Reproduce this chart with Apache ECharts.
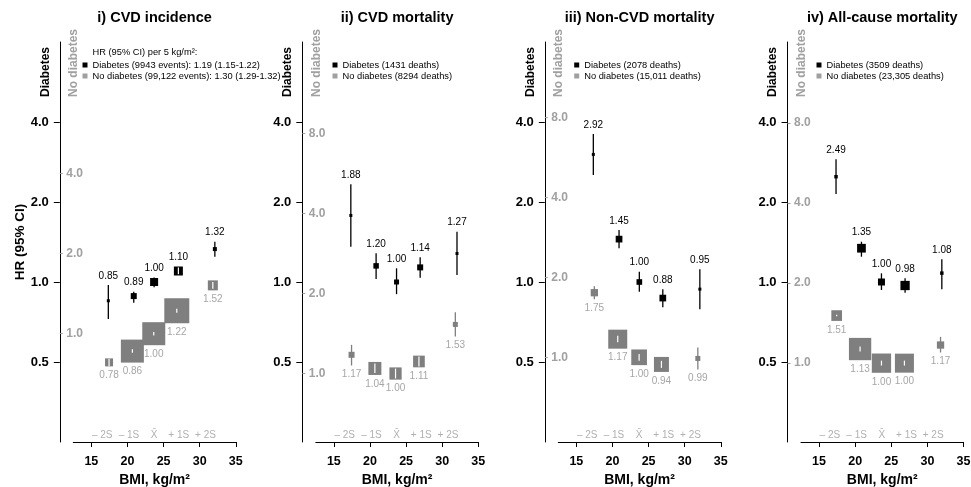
<!DOCTYPE html>
<html>
<head>
<meta charset="utf-8">
<script src="https://cdn.jsdelivr.net/npm/echarts@6/dist/echarts.min.js"></script>
<style>html,body{margin:0;padding:0;background:#fff}#c{width:971px;height:487px}</style>
</head>
<body>
<div id="c"></div>
<script>
// ---------------- DATA ----------------
const panelTitles = ['i) CVD incidence', 'ii) CVD mortality', 'iii) Non-CVD mortality', 'iv) All-cause mortality'];
const legendHeader = 'HR (95% CI) per 5 kg/m²:';
const legendDiab = ['Diabetes (9943 events): 1.19 (1.15-1.22)', 'Diabetes (1431 deaths)', 'Diabetes (2078 deaths)', 'Diabetes (3509 deaths)'];
const legendNoDiab = ['No diabetes (99,122 events): 1.30 (1.29-1.32)', 'No diabetes (8294 deaths)', 'No diabetes (15,011 deaths)', 'No diabetes (23,305 deaths)'];

// BMI group means (kg/m2)
const diabBMI = [
  [17.35, 20.87, 23.69, 27.05, 32.10],
  [17.35, 20.85, 23.68, 26.95, 32.05],
  [17.35, 20.91, 23.72, 26.97, 32.10],
  [17.35, 20.87, 23.64, 26.91, 32.00]
];
const noDiabBMI = [
  [17.45, 20.68, 23.64, 26.83, 31.82],
  [17.45, 20.68, 23.54, 26.78, 31.82],
  [17.49, 20.73, 23.69, 26.78, 31.82],
  [17.44, 20.68, 23.64, 26.82, 31.82]
];
// Hazard ratios and 95% CI
const diabHR = [
  [0.85, 0.885, 1.00, 1.10, 1.33],
  [1.78, 1.15, 1.00, 1.135, 1.28],
  [3.02, 1.45, 1.00, 0.87, 0.94],
  [2.49, 1.34, 1.00, 0.97, 1.08]
];
const diabLo = [
  [0.725, 0.836, 0.955, 1.07, 1.245],
  [1.358, 1.026, 0.90, 1.038, 1.063],
  [2.528, 1.339, 0.919, 0.803, 0.789],
  [2.144, 1.245, 0.933, 0.911, 0.939]
];
const diabHi = [
  [0.975, 0.919, 1.04, 1.135, 1.418],
  [2.33, 1.282, 1.126, 1.239, 1.547],
  [3.605, 1.569, 1.093, 0.939, 1.116],
  [2.895, 1.418, 1.078, 1.033, 1.217]
];
const noDiabHR = [
  [0.78, 0.86, 1.00, 1.22, 1.52],
  [1.176, 1.045, 1.00, 1.11, 1.53],
  [1.75, 1.17, 1.00, 0.94, 0.99],
  [1.51, 1.13, 1.00, 1.00, 1.17]
];
const noDiabLo = [
  [0.755, 0.847, 0.985, 1.20, 1.475],
  [1.072, 1.005, 0.958, 1.063, 1.378],
  [1.653, 1.14, 0.97, 0.912, 0.899],
  [1.50, 1.105, 0.979, 0.979, 1.097]
];
const noDiabHi = [
  [0.805, 0.873, 1.015, 1.24, 1.565],
  [1.282, 1.09, 1.044, 1.159, 1.70],
  [1.851, 1.205, 1.03, 0.97, 1.088],
  [1.52, 1.154, 1.022, 1.022, 1.256]
];
// relative weights (box area)
const diabW = [
  [0.09, 0.36, 0.64, 0.81, 0.16],
  [0.09, 0.30, 0.25, 0.36, 0.09],
  [0.09, 0.45, 0.32, 0.45, 0.09],
  [0.12, 0.76, 0.49, 0.86, 0.12]
];
const noDiabW = [
  [0.64, 5.29, 5.29, 6.25, 1.00],
  [0.36, 1.69, 1.50, 1.37, 0.25],
  [0.53, 3.61, 2.46, 2.25, 0.25],
  [1.14, 4.97, 3.72, 3.61, 0.53]
];
// printed HR labels
const diabLabel = [
  ['0.85', '0.89', '1.00', '1.10', '1.32'],
  ['1.88', '1.20', '1.00', '1.14', '1.27'],
  ['2.92', '1.45', '1.00', '0.88', '0.95'],
  ['2.49', '1.35', '1.00', '0.98', '1.08']
];
const noDiabLabel = [
  ['0.78', '0.86', '1.00', '1.22', '1.52'],
  ['1.17', '1.04', '1.00', '1.11', '1.53'],
  ['1.75', '1.17', '1.00', '0.94', '0.99'],
  ['1.51', '1.13', '1.00', '1.00', '1.17']
];
// axis ticks
const xTicks = [15, 20, 25, 30, 35];
const sdTickPos = [16.5, 20.2, 23.7, 27.1, 30.8];
const sdTickLabels = ['– 2S', '– 1S', 'X̄', '+ 1S', '+ 2S'];
const diabTicks = [0.5, 1, 2, 4];
const noDiabTicks = [[1, 2, 4], [1, 2, 4, 8], [1, 2, 4, 8], [1, 2, 4, 8]];
const noDiabAxisShift = [1.565, 2.21, 1.92, 2.02];

// ---------------- LAYOUT / STYLE ----------------
const FONT = 'Liberation Sans, Arial, Helvetica, sans-serif';
const GRID_LEFT = [73.3, 315.8, 558.3, 801.0];
const GRID_W = 162.5, GRID_TOP = 42, GRID_H = 400;
const AXIS_OFFSET = 13.5;
const LEG_LEFT = [82.5, 332.5, 574.2, 816.5];
const BLACK = '#000000', GRAY_BOX = '#7f7f7f', GRAY_TXT = '#a6a6a6', GRAY_AXIS = '#a0a0a0', SD_TXT = '#b0b0b0';

function makeRender(labels, color, isDiab) {
  return function (params, api) {
    const i = params.dataIndex;
    const x = api.value(0), y = api.value(1), lo = api.value(2), hi = api.value(3), w = api.value(4);
    const c = api.coord([x, y]);
    const cl = api.coord([x, lo]);
    const ch = api.coord([x, hi]);
    const s = 10 * Math.sqrt(w);
    const top = c[1] - s / 2, bot = c[1] + s / 2;
    const inside = ch[1] >= top && cl[1] <= bot;
    const children = [];
    if (!inside) {
      children.push({ type: 'line', shape: { x1: c[0], y1: ch[1], x2: c[0], y2: cl[1] }, style: { stroke: color, lineWidth: 1.3 } });
    }
    children.push({ type: 'rect', shape: { x: c[0] - s / 2, y: top, width: s, height: s }, style: { fill: color } });
    if (inside) {
      children.push({ type: 'line', shape: { x1: c[0], y1: ch[1], x2: c[0], y2: cl[1] }, style: { stroke: '#ffffff', lineWidth: 1.2 } });
    }
    if (isDiab) {
      children.push({ type: 'text', style: { text: labels[i], x: c[0], y: Math.min(ch[1], top) - 4, align: 'center', verticalAlign: 'bottom', fill: BLACK, fontSize: 10, fontFamily: FONT } });
    } else {
      children.push({ type: 'text', style: { text: labels[i], x: c[0], y: Math.max(cl[1], bot) + 4, align: 'center', verticalAlign: 'top', fill: GRAY_TXT, fontSize: 10, fontFamily: FONT } });
    }
    return { type: 'group', children: children };
  };
}

const grids = [], xAxes = [], yAxes = [], series = [], legends = [], titles = [], graphics = [];
for (let p = 0; p < 4; p++) {
  grids.push({ left: GRID_LEFT[p], top: GRID_TOP, width: GRID_W, height: GRID_H, outerBoundsMode: 'none', containLabel: false });
  xAxes.push({
    type: 'value', gridIndex: p, min: 12.5, max: 35, position: 'bottom',
    axisLine: { show: true, onZero: false, lineStyle: { color: BLACK, width: 1 } },
    axisTick: { show: true, length: 5, customValues: xTicks, lineStyle: { color: BLACK } },
    axisLabel: { customValues: xTicks, fontWeight: 'bold', fontSize: 12.5, color: BLACK, margin: 13, fontFamily: FONT },
    splitLine: { show: false },
    name: 'BMI, kg/m²', nameLocation: 'middle', nameGap: 28,
    nameTextStyle: { fontWeight: 'bold', fontSize: 14, color: BLACK, fontFamily: FONT }
  });
  xAxes.push({
    type: 'value', gridIndex: p, min: 12.5, max: 35, position: 'bottom',
    axisLine: { show: false }, axisTick: { show: false }, splitLine: { show: false },
    axisLabel: {
      inside: true, customValues: sdTickPos, margin: 2, fontSize: 10, color: SD_TXT, fontFamily: FONT,
      formatter: function (v) {
        let k = 0, best = Infinity;
        sdTickPos.forEach(function (q, j) { if (Math.abs(q - v) < best) { best = Math.abs(q - v); k = j; } });
        return sdTickLabels[k];
      }
    }
  });
  yAxes.push({
    type: 'log', logBase: 2, gridIndex: p, min: 0.25, max: 8, position: 'left', offset: AXIS_OFFSET,
    axisLine: { show: true, lineStyle: { color: BLACK, width: 1 } },
    axisTick: { show: true, length: 6, customValues: diabTicks, lineStyle: { color: BLACK } },
    axisLabel: { customValues: diabTicks, formatter: function (v) { return Number(v).toFixed(1); }, fontWeight: 'bold', fontSize: 13, color: BLACK, margin: 11, fontFamily: FONT },
    splitLine: { show: false },
    name: p === 0 ? 'HR (95% CI)' : '', nameLocation: 'middle', nameGap: 32,
    nameTextStyle: { fontWeight: 'bold', fontSize: 13.5, color: BLACK, fontFamily: FONT }
  });
  yAxes.push({
    type: 'log', logBase: 2, gridIndex: p, min: 0.25 * noDiabAxisShift[p], max: 8 * noDiabAxisShift[p], position: 'left', offset: AXIS_OFFSET,
    axisLine: { show: false },
    axisTick: { show: true, inside: true, length: 3, customValues: noDiabTicks[p], lineStyle: { color: GRAY_AXIS } },
    axisLabel: { inside: true, customValues: noDiabTicks[p], formatter: function (v) { return Number(v).toFixed(1); }, fontWeight: 'bold', fontSize: 12, color: GRAY_AXIS, margin: 6.5, fontFamily: FONT },
    splitLine: { show: false }
  });
  const dData = diabBMI[p].map(function (b, i) { return [b, diabHR[p][i], diabLo[p][i], diabHi[p][i], diabW[p][i]]; });
  const nData = noDiabBMI[p].map(function (b, i) { return [b, noDiabHR[p][i], noDiabLo[p][i], noDiabHi[p][i], noDiabW[p][i]]; });
  series.push({
    type: 'custom', name: legendNoDiab[p], xAxisIndex: 2 * p, yAxisIndex: 2 * p + 1,
    itemStyle: { color: GRAY_AXIS }, encode: { x: 0, y: 1 }, silent: true, clip: false,
    renderItem: makeRender(noDiabLabel[p], GRAY_BOX, false), data: nData
  });
  series.push({
    type: 'custom', name: legendDiab[p], xAxisIndex: 2 * p, yAxisIndex: 2 * p, z: 3,
    itemStyle: { color: BLACK }, encode: { x: 0, y: 1 }, silent: true, clip: false,
    renderItem: makeRender(diabLabel[p], BLACK, true), data: dData
  });
  legends.push({
    left: LEG_LEFT[p], top: 59.5, orient: 'vertical', itemWidth: 5, itemHeight: 5, itemGap: 0, padding: 0,
    icon: 'rect', selectedMode: false,
    textStyle: { fontSize: 9.3, lineHeight: 11, color: BLACK, fontFamily: FONT },
    data: [{ name: legendDiab[p], itemStyle: { color: BLACK } }, { name: legendNoDiab[p], itemStyle: { color: GRAY_AXIS } }]
  });
  titles.push({
    text: panelTitles[p], left: GRID_LEFT[p] + GRID_W / 2, top: 10, textAlign: 'center', padding: 0,
    textStyle: { fontSize: 14.5, fontWeight: 'bold', color: BLACK, fontFamily: FONT }
  });
  const ax = GRID_LEFT[p] - AXIS_OFFSET;
  graphics.push({ type: 'text', x: ax - 14.5, y: 97, rotation: Math.PI / 2, silent: true,
    style: { text: 'Diabetes', align: 'left', verticalAlign: 'middle', fontWeight: 'bold', fontSize: 12, fill: BLACK, fontFamily: FONT } });
  graphics.push({ type: 'text', x: ax + 14, y: 97, rotation: Math.PI / 2, silent: true,
    style: { text: 'No diabetes', align: 'left', verticalAlign: 'middle', fontWeight: 'bold', fontSize: 12, fill: GRAY_AXIS, fontFamily: FONT } });
}
titles.push({ text: legendHeader, left: 92.5, top: 48, padding: 0, textStyle: { fontSize: 9.3, fontWeight: 'normal', color: BLACK, fontFamily: FONT } });

const chart = echarts.init(document.getElementById('c'));
chart.setOption({
  animation: false,
  backgroundColor: '#ffffff',
  textStyle: { fontFamily: FONT },
  title: titles,
  legend: legends,
  grid: grids,
  xAxis: xAxes,
  yAxis: yAxes,
  series: series,
  graphic: graphics
});
</script>
</body>
</html>
